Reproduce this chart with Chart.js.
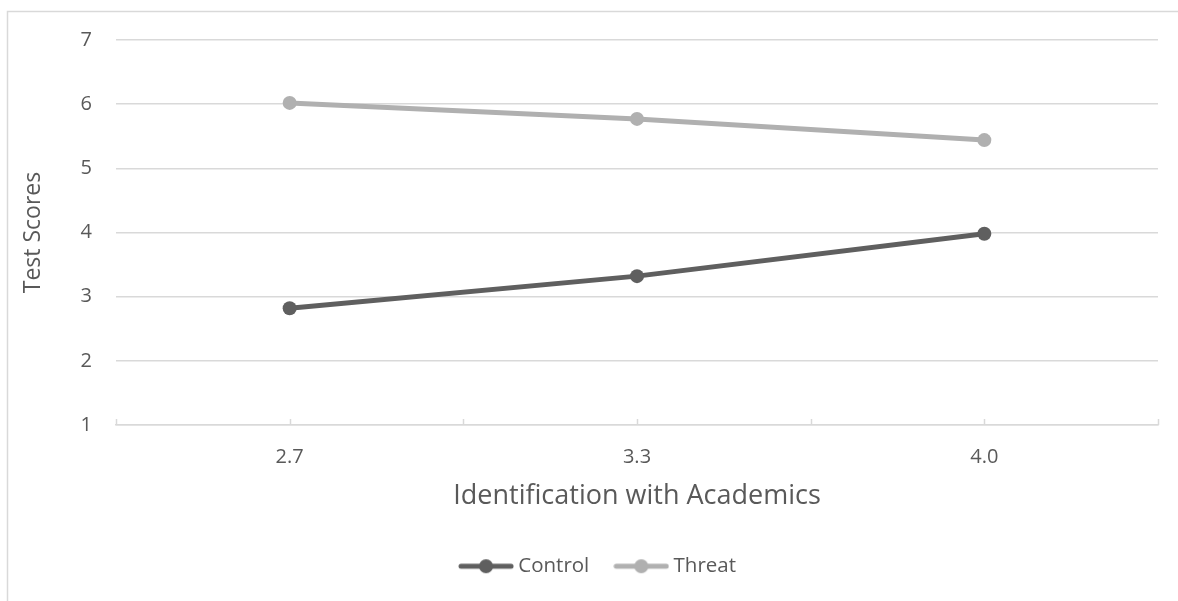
<!DOCTYPE html>
<html>
<head>
<meta charset="utf-8">
<script src="https://cdn.jsdelivr.net/npm/chart.js@4"></script>
<style>
  html, body { margin: 0; padding: 0; background: #ffffff; overflow: hidden; }
  #wrap { position: relative; width: 1178px; height: 601px; }
</style>
</head>
<body>
<div id="wrap"><canvas id="chart"></canvas></div>
<script>
// Category labels on the x axis (identification with academics)
const categories = ['2.7', '3.3', '4.0'];
// Mean test scores per condition
const controlScores = [2.82, 3.32, 3.98];
const threatScores = [6.02, 5.77, 5.44];
// Y axis range
const yTicks = [1, 2, 3, 4, 5, 6, 7];

const TEXT = '#595959';
const GRID = '#d9d9d9';
const CONTROL = '#5f5f5f';
const THREAT = '#b0b0b0';
const FONT = "'Open Sans', 'Noto Sans', sans-serif";

// Legend swatch: a short line with a marker in the middle
function swatch(color) {
  const c = document.createElement('canvas');
  c.width = 56; c.height = 16;
  const g = c.getContext('2d');
  g.strokeStyle = color;
  g.lineWidth = 5;
  g.lineCap = 'round';
  g.beginPath();
  g.moveTo(3, 8); g.lineTo(53, 8);
  g.stroke();
  g.fillStyle = color;
  g.beginPath();
  g.arc(28, 8, 7, 0, Math.PI * 2);
  g.fill();
  return c;
}

// Outer frame of the chart
const framePlugin = {
  id: 'frame',
  beforeDraw(chart) {
    const ctx = chart.ctx;
    ctx.save();
    ctx.fillStyle = '#ffffff';
    ctx.fillRect(0, 0, chart.width, chart.height);
    ctx.strokeStyle = GRID;
    ctx.lineWidth = 1.5;
    ctx.strokeRect(7.5, 11.5, chart.width + 50, chart.height + 50);
    ctx.restore();
  }
};

// Short upward tick marks on the category axis (centres and boundaries)
const catTicks = {
  id: 'catTicks',
  afterDatasetsDraw(chart) {
    const x = chart.scales.x;
    const yb = chart.chartArea.bottom;
    const ctx = chart.ctx;
    const n = categories.length;
    const step = n > 1 ? x.getPixelForValue(1) - x.getPixelForValue(0) : x.width;
    const xs = [];
    for (let i = 0; i < n; i++) {
      const p = x.getPixelForValue(i);
      xs.push(p - step / 2, p);
      if (i === n - 1) xs.push(p + step / 2);
    }
    ctx.save();
    ctx.strokeStyle = GRID;
    ctx.lineWidth = 1.5;
    xs.forEach(px => {
      ctx.beginPath();
      ctx.moveTo(Math.round(px) + 0.5, yb);
      ctx.lineTo(Math.round(px) + 0.5, yb - 6);
      ctx.stroke();
    });
    ctx.restore();
  }
};

new Chart(document.getElementById('chart'), {
  type: 'line',
  data: {
    labels: categories,
    datasets: [
      {
        label: 'Control',
        data: controlScores,
        borderColor: CONTROL,
        backgroundColor: CONTROL,
        borderWidth: 5,
        pointRadius: 7,
        pointHoverRadius: 7,
        pointBorderWidth: 0,
        pointStyle: 'circle',
        tension: 0
      },
      {
        label: 'Threat',
        data: threatScores,
        borderColor: THREAT,
        backgroundColor: THREAT,
        borderWidth: 5,
        pointRadius: 7,
        pointHoverRadius: 7,
        pointBorderWidth: 0,
        pointStyle: 'circle',
        tension: 0
      }
    ]
  },
  options: {
    responsive: true,
    maintainAspectRatio: false,
    animation: false,
    layout: { padding: { left: 42, right: 20, top: 40, bottom: 14.5 } },
    plugins: {
      tooltip: { enabled: false },
      legend: {
        position: 'bottom',
        labels: {
          color: TEXT,
          font: { family: FONT, size: 20.5 },
          usePointStyle: true,
          pointStyleWidth: 44,
          padding: 30,
          generateLabels(chart) {
            return chart.data.datasets.map((ds, i) => ({
              text: ds.label,
              fontColor: TEXT,
              pointStyle: swatch(ds.borderColor),
              fillStyle: ds.borderColor,
              strokeStyle: ds.borderColor,
              lineWidth: 0,
              hidden: false,
              datasetIndex: i
            }));
          }
        }
      }
    },
    scales: {
      x: {
        offset: true,
        grid: { display: false, drawTicks: false },
        border: { display: true, color: GRID, width: 1.5 },
        ticks: { color: TEXT, font: { family: FONT, size: 20 }, padding: 20 },
        title: {
          display: true,
          text: 'Identification with Academics',
          color: TEXT,
          font: { family: FONT, size: 27 },
          padding: { top: 0, bottom: 13 }
        },
        afterFit(s) { s.height = 101; }
      },
      y: {
        min: yTicks[0],
        max: yTicks[yTicks.length - 1],
        grid: { color: GRID, lineWidth: 1.5, drawTicks: false },
        border: { display: false },
        ticks: {
          stepSize: 1,
          color: TEXT,
          font: { family: FONT, size: 20 },
          padding: 24
        },
        title: {
          display: true,
          text: 'Test Scores',
          color: TEXT,
          font: { family: FONT, size: 23 },
          padding: { top: -22.8, bottom: 0 }
        },
        afterFit(s) { s.width = 74; }
      }
    }
  },
  plugins: [framePlugin, catTicks]
});
</script>
</body>
</html>
